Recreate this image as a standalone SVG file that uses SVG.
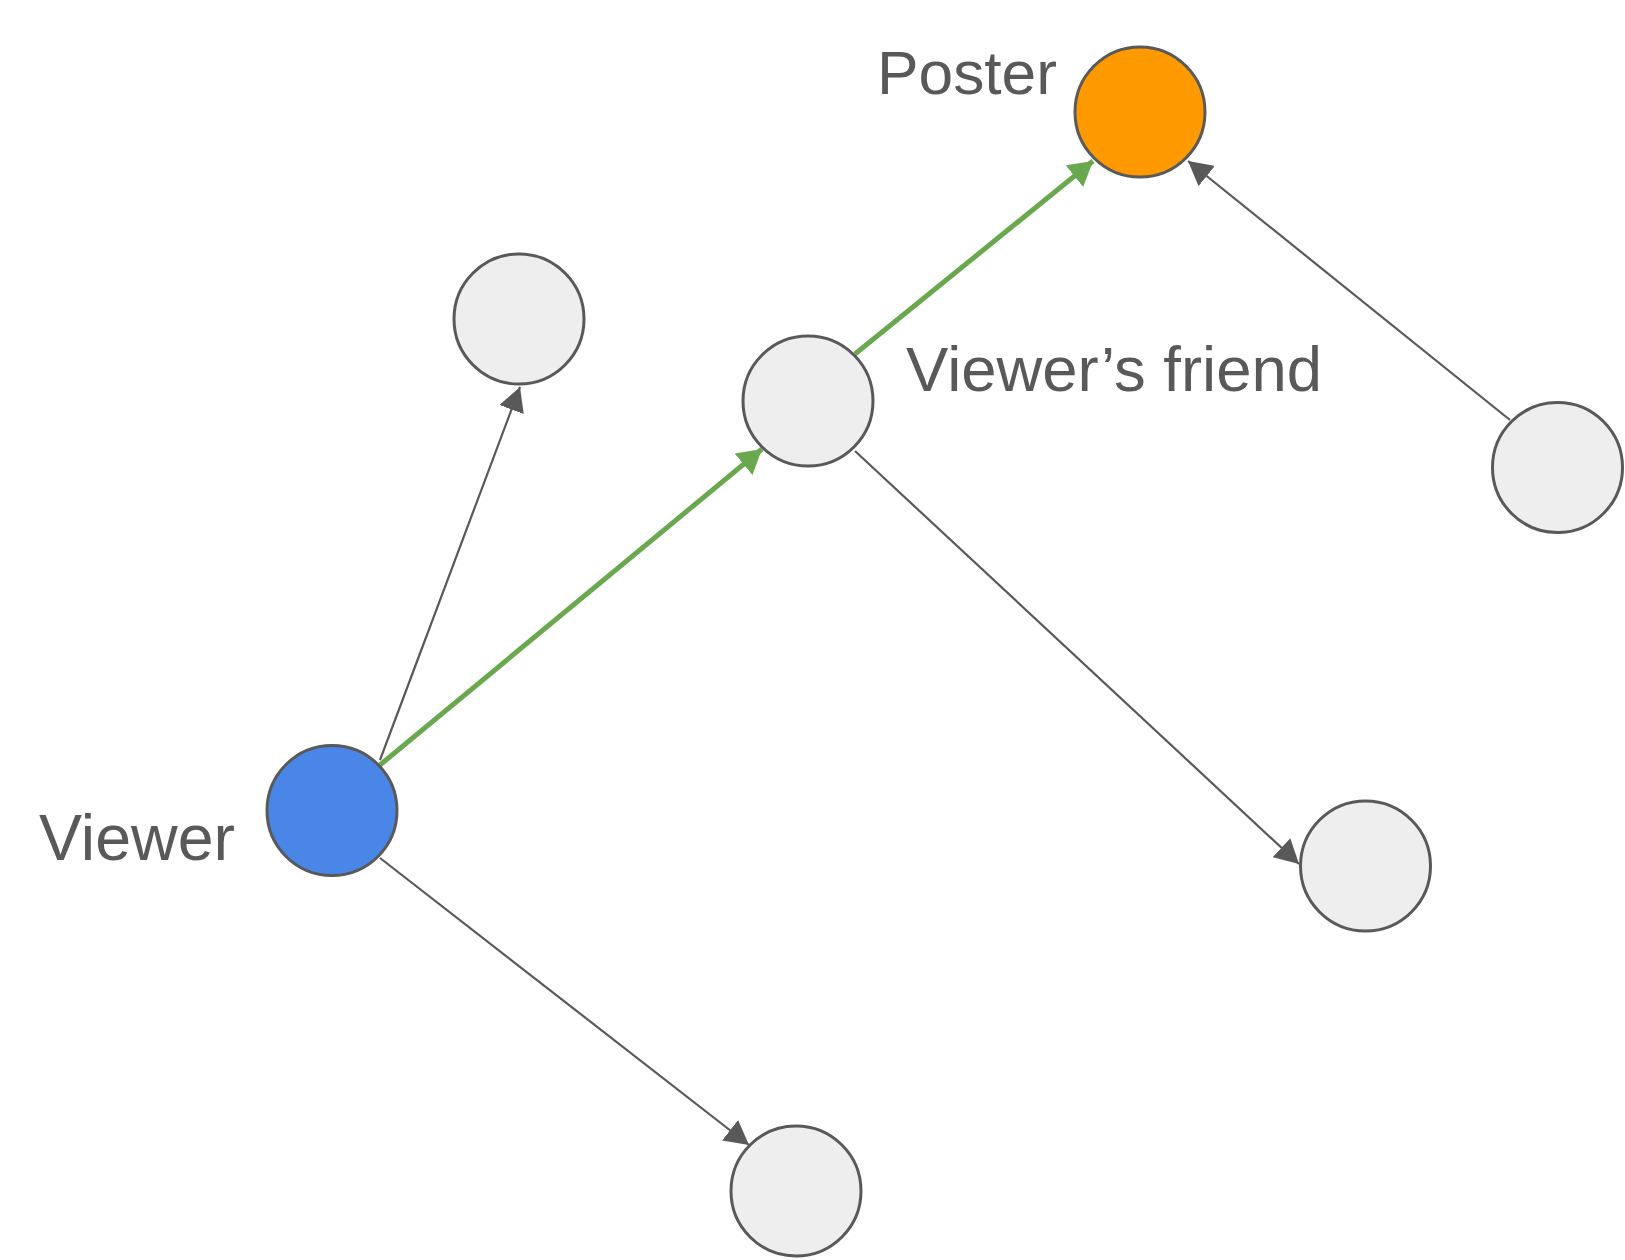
<svg xmlns="http://www.w3.org/2000/svg" width="1625" height="1260" viewBox="0 0 1625 1260">
<style>
.node{stroke:#595959;stroke-width:3}
.grey{fill:#eeeeee}
.label{font-family:"Liberation Sans",Arial,sans-serif;fill:#595959}
.edge{fill:none;stroke:#595959;stroke-width:2.2}
.green{fill:none;stroke:#6aa84f;stroke-width:5}
</style>
<defs>
<marker id="ag" viewBox="0 0 24 26" refX="24" refY="13" markerWidth="24" markerHeight="26" markerUnits="userSpaceOnUse" orient="auto"><path d="M0,0 L24,13 L0,26 z" fill="#595959"/></marker>
<marker id="agr" viewBox="0 0 24 28" refX="24" refY="14" markerWidth="24" markerHeight="28" markerUnits="userSpaceOnUse" orient="auto"><path d="M0,0 L24,14 L0,28 z" fill="#6aa84f"/></marker>
</defs>
<rect width="1625" height="1260" fill="#ffffff"/>
<g id="connectors">
<line class="edge" x1="380" y1="760" x2="520" y2="387" marker-end="url(#ag)"/>
<line class="edge" x1="380" y1="858" x2="749" y2="1145" marker-end="url(#ag)"/>
<line class="edge" x1="855" y1="451" x2="1299" y2="864" marker-end="url(#ag)"/>
<line class="edge" x1="1510" y1="420" x2="1188" y2="161" marker-end="url(#ag)"/>
<line class="green" x1="380" y1="765" x2="762" y2="449" marker-end="url(#agr)"/>
<line class="green" x1="855" y1="354" x2="1093" y2="161" marker-end="url(#agr)"/>
</g>
<g id="poster"><circle class="node" cx="1140" cy="112" r="65" fill="#ff9900"/><text class="label" x="877" y="94" font-size="62" textLength="180" lengthAdjust="spacingAndGlyphs">Poster</text></g>
<g id="viewer"><circle class="node" cx="332" cy="810.5" r="65" fill="#4a86e8"/><text class="label" x="39" y="860" font-size="64" textLength="196" lengthAdjust="spacingAndGlyphs">Viewer</text></g>
<g id="friend"><circle class="node grey" cx="808" cy="401" r="65"/><text class="label" x="906" y="391" font-size="63" textLength="416" lengthAdjust="spacingAndGlyphs">Viewer’s friend</text></g>
<g id="n-topleft"><circle class="node grey" cx="519" cy="319" r="65"/></g>
<g id="n-right"><circle class="node grey" cx="1557.5" cy="467.5" r="65"/></g>
<g id="n-midright"><circle class="node grey" cx="1365.5" cy="866" r="65"/></g>
<g id="n-bottom"><circle class="node grey" cx="796" cy="1191" r="65"/></g>
</svg>
